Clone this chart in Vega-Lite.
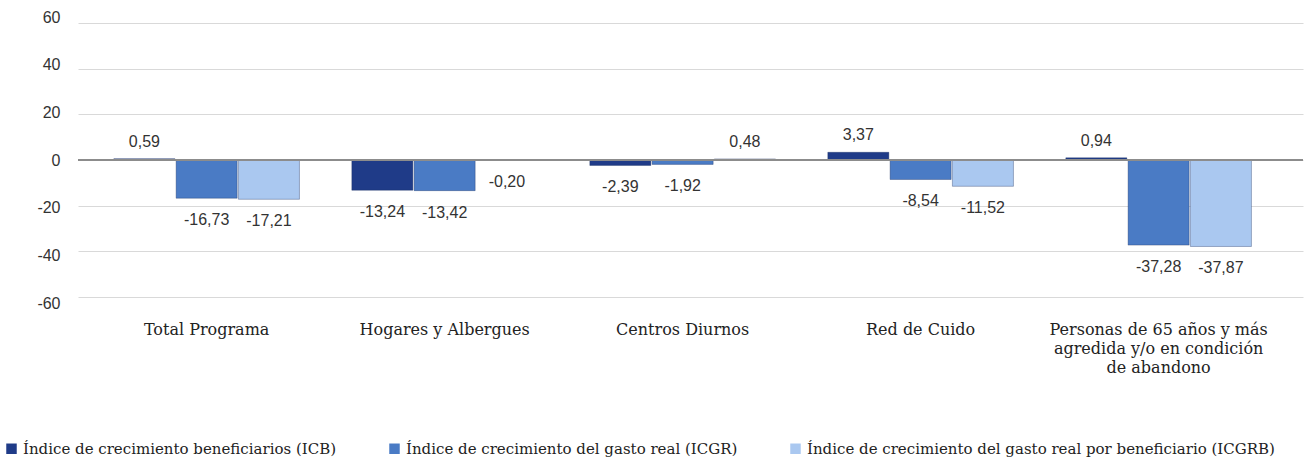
{
  "$schema": "https://vega.github.io/schema/vega-lite/v6.json",
  "width": 1225,
  "height": 274,
  "autosize": "none",
  "padding": {"left": 78, "top": 23, "right": 7, "bottom": 169},
  "background": "white",
  "config": {
    "view": {"stroke": null},
    "locale": {"number": {"decimal": ",", "thousands": ".", "grouping": [3], "currency": ["", ""], "minus": "-"}}
  },
  "data": {
    "values": [
      {"categoria": "Total Programa", "serie": "Índice de crecimiento beneficiarios (ICB)", "valor": 0.59},
      {"categoria": "Total Programa", "serie": "Índice de crecimiento del gasto real (ICGR)", "valor": -16.73},
      {"categoria": "Total Programa", "serie": "Índice de crecimiento del gasto real por beneficiario (ICGRB)", "valor": -17.21},
      {"categoria": "Hogares y Albergues", "serie": "Índice de crecimiento beneficiarios (ICB)", "valor": -13.24},
      {"categoria": "Hogares y Albergues", "serie": "Índice de crecimiento del gasto real (ICGR)", "valor": -13.42},
      {"categoria": "Hogares y Albergues", "serie": "Índice de crecimiento del gasto real por beneficiario (ICGRB)", "valor": -0.20},
      {"categoria": "Centros Diurnos", "serie": "Índice de crecimiento beneficiarios (ICB)", "valor": -2.39},
      {"categoria": "Centros Diurnos", "serie": "Índice de crecimiento del gasto real (ICGR)", "valor": -1.92},
      {"categoria": "Centros Diurnos", "serie": "Índice de crecimiento del gasto real por beneficiario (ICGRB)", "valor": 0.48},
      {"categoria": "Red de Cuido", "serie": "Índice de crecimiento beneficiarios (ICB)", "valor": 3.37},
      {"categoria": "Red de Cuido", "serie": "Índice de crecimiento del gasto real (ICGR)", "valor": -8.54},
      {"categoria": "Red de Cuido", "serie": "Índice de crecimiento del gasto real por beneficiario (ICGRB)", "valor": -11.52},
      {"categoria": "Personas de 65 años y más|agredida y/o en condición|de abandono", "serie": "Índice de crecimiento beneficiarios (ICB)", "valor": 0.94},
      {"categoria": "Personas de 65 años y más|agredida y/o en condición|de abandono", "serie": "Índice de crecimiento del gasto real (ICGR)", "valor": -37.28},
      {"categoria": "Personas de 65 años y más|agredida y/o en condición|de abandono", "serie": "Índice de crecimiento del gasto real por beneficiario (ICGRB)", "valor": -37.87}
    ]
  },
  "encoding": {
    "x": {
      "field": "categoria", "type": "nominal", "sort": null,
      "scale": {"paddingInner": 0.22, "paddingOuter": 0.1836, "align": 0.41},
      "axis": {
        "title": null, "domain": false, "ticks": false, "labelAngle": 0,
        "labelPadding": 24, "labelFont": "DejaVu Serif", "labelFontSize": 16,
        "labelColor": "#222222", "labelLineHeight": 19, "labelLimit": 400,
        "labelExpr": "split(datum.label, '|')"
      }
    },
    "xOffset": {"field": "serie", "type": "nominal", "sort": null, "scale": {"paddingInner": 0.02}},
    "y": {
      "field": "valor", "type": "quantitative",
      "scale": {"domain": [-60, 60], "nice": false},
      "axis": {
        "title": null, "domain": false, "ticks": false,
        "values": [-60, -40, -20, 0, 20, 40, 60],
        "format": "d", "grid": true, "gridColor": "#d9d9d9", "gridWidth": 1,
        "labelPadding": 18, "labelFont": "Liberation Sans", "labelFontSize": 16, "labelColor": "#333333",
        "labelOffset": {"expr": "-datum.value * 0.1"}
      }
    }
  },
  "layer": [
    {
      "mark": {"type": "bar", "stroke": "#1a2f5e", "strokeOpacity": 0.35, "strokeWidth": 1},
      "encoding": {
        "color": {
          "field": "serie", "type": "nominal", "sort": null,
          "scale": {"range": ["#1f3b88", "#4a7bc5", "#aac8f0"]},
          "legend": {
            "title": null, "orient": "none", "direction": "horizontal",
            "legendX": -74, "legendY": 418,
            "symbolType": "square", "symbolSize": 110, "symbolStrokeWidth": 0,
            "labelFont": "DejaVu Serif", "labelFontSize": 15, "labelColor": "#222222",
            "labelLimit": 600, "columnPadding": 50, "labelOffset": 4
          }
        }
      }
    },
    {
      "mark": {"type": "rule", "color": "#8c8c8c", "strokeWidth": 1.5},
      "encoding": {"y": {"datum": 0, "type": "quantitative"}, "x": null, "xOffset": null}
    },
    {
      "transform": [{"filter": "datum.valor >= 0"}],
      "mark": {"type": "text", "baseline": "bottom", "dy": -9, "font": "Liberation Sans", "fontSize": 16, "color": "#333333"},
      "encoding": {"text": {"field": "valor", "type": "quantitative", "format": ".2f"}}
    },
    {
      "transform": [{"filter": "datum.valor < 0"}],
      "mark": {"type": "text", "baseline": "top", "dy": 14, "font": "Liberation Sans", "fontSize": 16, "color": "#333333"},
      "encoding": {"text": {"field": "valor", "type": "quantitative", "format": ".2f"}}
    }
  ]
}
